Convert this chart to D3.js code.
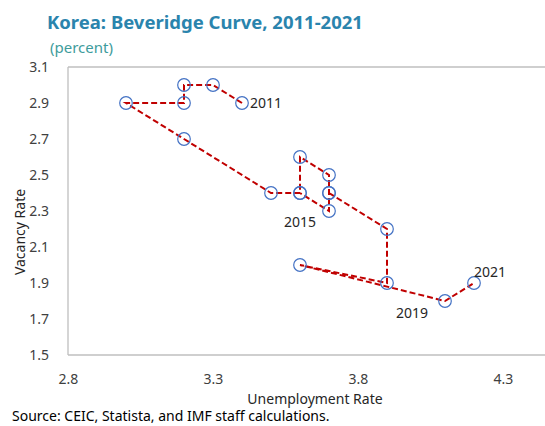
<!DOCTYPE html>
<html>
<head>
<meta charset="utf-8">
<script src="https://cdn.jsdelivr.net/npm/d3@7/dist/d3.min.js"></script>
<style>
  body { margin: 0; background: #fff; }
  text { font-family: "Noto Sans", "Open Sans", sans-serif; }
</style>
</head>
<body>
<div id="chart"></div>
<script>
// path of the curve, in plotted order (null = blank cell, line breaks there)
var unemployment = [3.4, 3.3, 3.2, 3.2, 3.0, 3.2, 3.5, 3.6, 3.6, 3.7, 3.7, 3.7, 3.6, null, 3.7, 3.9, 3.9, 3.6, 4.1, 4.2];
var vacancy      = [2.9, 3.0, 3.0, 2.9, 2.9, 2.7, 2.4, 2.4, 2.6, 2.5, 2.4, 2.3, 2.4, null, 2.4, 2.2, 1.9, 2.0, 1.8, 1.9];

// year labels and the point they sit on
var yearLabels = ["2011", "2015", "2019", "2021"];
var yearPoint  = [0, 7, 18, 19];

var xTicks = [2.8, 3.3, 3.8, 4.3];
var yTicks = [1.5, 1.7, 1.9, 2.1, 2.3, 2.5, 2.7, 2.9, 3.1];

var width = 545, height = 426;
var margin = {top: 67, right: 0, bottom: 71, left: 68};

var svg = d3.select("#chart").append("svg")
    .attr("width", width)
    .attr("height", height);

var x = d3.scaleLinear()
    .domain([2.8, 4.4])
    .range([margin.left, margin.left + 1.6 * 290]);

var y = d3.scaleLinear()
    .domain([1.5, 3.1])
    .range([height - margin.bottom, margin.top]);

// plot area frame (open on the right, runs off the page)
var frame = svg.append("g").attr("stroke", "#bfbfbf").attr("stroke-width", 1.3);
frame.append("line").attr("x1", margin.left).attr("x2", width).attr("y1", y(3.1)).attr("y2", y(3.1));
frame.append("line").attr("x1", margin.left).attr("x2", width).attr("y1", y(1.5)).attr("y2", y(1.5));
frame.append("line").attr("x1", margin.left).attr("x2", margin.left).attr("y1", y(3.1)).attr("y2", y(1.5));

// axes
svg.append("g")
    .attr("transform", `translate(${margin.left - 16},0)`)
    .call(d3.axisLeft(y).tickValues(yTicks).tickFormat(d3.format(".1f")).tickSize(0))
    .call(g => g.select(".domain").remove())
    .selectAll("text")
      .attr("font-size", 14)
      .attr("fill", "#404040")
      .attr("font-family", "Noto Sans");

svg.append("g")
    .attr("transform", `translate(0,${y(1.5) + 16})`)
    .call(d3.axisBottom(x).tickValues(xTicks).tickFormat(d3.format(".1f")).tickSize(0))
    .call(g => g.select(".domain").remove())
    .selectAll("text")
      .attr("font-size", 14)
      .attr("fill", "#404040")
      .attr("font-family", "Noto Sans");

// the curve
var points = unemployment.map((u, i) => ({u: u, v: vacancy[i]}));

var line = d3.line()
    .defined(d => d.u != null)
    .x(d => x(d.u))
    .y(d => y(d.v));

svg.append("path")
    .datum(points)
    .attr("d", line)
    .attr("fill", "none")
    .attr("stroke", "#c00000")
    .attr("stroke-width", 2)
    .attr("stroke-dasharray", "6,3");

svg.append("g")
  .selectAll("circle")
  .data(points.filter(d => d.u != null))
  .enter().append("circle")
    .attr("cx", d => x(d.u))
    .attr("cy", d => y(d.v))
    .attr("r", 6.3)
    .attr("fill", "none")
    .attr("stroke", "#4472c4")
    .attr("stroke-width", 1.2);

// year labels, nudged off their points
var labelOffset = {"2011": [8, 5, "start"], "2015": [0, 34, "middle"], "2019": [-33, 17, "middle"], "2021": [16, -6, "middle"]};
svg.append("g")
  .selectAll("text")
  .data(yearLabels)
  .enter().append("text")
    .attr("x", (d, i) => x(points[yearPoint[i]].u) + labelOffset[d][0])
    .attr("y", (d, i) => y(points[yearPoint[i]].v) + labelOffset[d][1])
    .attr("text-anchor", d => labelOffset[d][2])
    .attr("font-size", 14)
    .attr("fill", "#262626")
    .text(d => d);

// titles
svg.append("text")
    .attr("x", 47).attr("y", 29)
    .attr("font-size", 18.5)
    .attr("font-weight", "bold")
    .attr("fill", "#2a84ad")
    .text("Korea: Beveridge Curve, 2011-2021");

svg.append("text")
    .attr("x", 50).attr("y", 53)
    .attr("font-size", 15)
    .attr("fill", "#3e9c9c")
    .text("(percent)");

svg.append("text")
    .attr("x", 315).attr("y", 404)
    .attr("text-anchor", "middle")
    .attr("font-size", 14)
    .attr("fill", "#262626")
    .text("Unemployment Rate");

svg.append("text")
    .attr("transform", "translate(25,232) rotate(-90)")
    .attr("text-anchor", "middle")
    .attr("font-size", 14)
    .attr("fill", "#262626")
    .text("Vacancy Rate");

svg.append("text")
    .attr("x", 12).attr("y", 421)
    .attr("font-size", 14)
    .attr("fill", "#000")
    .text("Source: CEIC, Statista, and IMF staff calculations.");
</script>
</body>
</html>
